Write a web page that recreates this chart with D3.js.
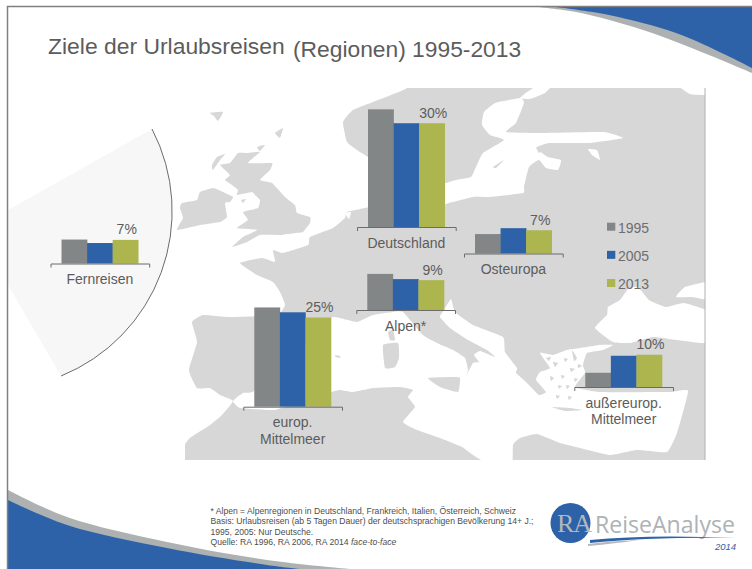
<!DOCTYPE html>
<html><head><meta charset="utf-8">
<style>html,body{margin:0;padding:0;background:#fff;overflow:hidden}svg{display:block}text{font-family:"Liberation Sans",Arial,sans-serif}</style>
<script src="https://cdn.jsdelivr.net/npm/d3@7/dist/d3.min.js"></script>
</head><body><svg id="c" width="752" height="569"></svg>
<script>
// ---- chart data ----
const years = ["1995","2005","2013"];
const categories = ["Fernreisen","Deutschland","Osteuropa","Alpen*","europ. Mittelmeer","außereurop. Mittelmeer"];
const values1995 = [6.9,33.9,5.6,10.4,28.6,4.1];
const values2005 = [5.9,29.9,7.3,8.9,27.2,9.0];
const values2013 = [6.8,29.9,6.7,8.6,25.7,9.3];
const labels2013 = ["7%","30%","7%","9%","25%","10%"];
const titleMain = "Ziele der Urlaubsreisen";
const titleSub = "(Regionen) 1995-2013";
const footnotes = ["* Alpen = Alpenregionen in Deutschland, Frankreich, Italien, Österreich, Schweiz",
 "Basis: Urlaubsreisen (ab 5 Tagen Dauer) der deutschsprachigen Bevölkerung 14+ J.;",
 "1995, 2005: Nur Deutsche."];

// ---- layout ----
const panelLeft = [50.5,357,464,356.3,243.3,574.3];
const panelBase = [263.5,227,253.5,310,406.7,387];
const panelWidth = 98.7;
const colors = d3.scaleOrdinal(years,["#828687","#2e62a8","#adb54f"]);
const INK = "#5c5c5c";

// ---- decorative map outlines (background artwork, px) ----
const seaAtlantic = [[150,70],[407,70],[407,88],[373,102],[353,110],[343,122],[347,142],[357,150],[368,157],[380,165],[380,205],[370,207],[347,212],[345,218],[333,228],[310,237],[308,245],[283,253],[273,250],[275,262],[262,258],[240,263],[257,275],[273,282],[280,292],[285,305],[277,315],[230,317],[203,315],[192,322],[197,342],[189,370],[197,388],[210,388],[220,395],[233,401],[222,415],[210,425],[190,438],[183,448],[180,475],[150,475]];
const seaMed = [[233,401],[243,393],[254,391],[300,350],[331,318],[340,318],[357,322],[373,315],[393,312],[403,312],[423,335],[437,343],[453,350],[465,358],[468,370],[465,378],[473,363],[479,362],[474,355],[480,351],[495,357],[487,350],[468,340],[450,328],[440,317],[444,310],[451,299],[455,312],[473,325],[503,337],[505,352],[517,368],[516,373],[526,382],[539,395],[546,392],[536,380],[540,372],[550,368],[540,353],[553,355],[567,350],[587,347],[600,345],[613,345],[603,350],[587,353],[583,365],[585,373],[575,387],[600,392],[670,392],[688,391],[677,433],[667,452],[637,450],[610,455],[580,448],[560,443],[537,434],[520,438],[513,445],[512,468],[495,468],[473,455],[462,447],[440,438],[417,430],[403,422],[415,407],[408,397],[413,390],[400,387],[373,388],[353,392],[340,390],[331,392],[300,400],[275,410],[240,408]];
const seaBlack = [[595,328],[607,315],[608,307],[620,300],[628,289],[638,287],[649,300],[666,307],[684,303],[712,313],[712,343],[677,340],[653,337],[630,343],[613,342]];
const seaAzov = [[676,297],[685,287],[712,281],[712,300],[692,297]];
const seaBaltic = [[440,183],[446,183],[456,180],[471,177],[476,167],[483,153],[504,140],[490,135],[482,125],[484,112],[495,103],[509,100],[521,98],[524,103],[516,123],[506,132],[536,133],[603,132],[623,138],[589,143],[549,143],[536,148],[548,157],[561,160],[558,170],[546,168],[539,160],[529,167],[524,187],[523,193],[489,197],[473,197],[449,203],[440,205]];
const seaLadoga = [[588,149],[597,150],[600,160],[592,155]];
const seaNorth1 = [[520,98],[527,92],[540,84],[553,84],[545,93],[530,99]];
const seaNorth2 = [[677,84],[712,84],[712,95],[690,94]];
const seaIjssel = [[345,213],[351,212],[349,219]];
const landIreland = [[200,192],[213,188],[223,192],[233,197],[230,202],[225,203],[227,217],[220,222],[200,225],[177,230],[183,218],[180,208],[182,203],[197,200]];
const landBritain = [[238,153],[248,153],[260,152],[248,163],[272,163],[270,170],[260,180],[272,183],[285,197],[295,205],[297,213],[310,217],[310,223],[303,232],[295,233],[280,235],[260,235],[247,242],[232,247],[243,237],[257,230],[237,228],[248,220],[243,212],[258,208],[260,200],[255,195],[252,192],[237,195],[238,190],[232,185],[225,180],[230,175],[220,165],[230,163]];
const landHebrides = [[212,165],[217,157],[225,154],[220,160],[213,170]];
const landOrkney = [[257,147],[265,145],[260,151]];
const landShetland = [[275,133],[283,128],[280,138]];
const landFaroe = [[210,113],[223,112],[218,121],[214,116]];
const landMan = [[241,200],[246,199],[243,203]];
const landCorsica = [[388,332],[393,330],[395,340],[390,340]];
const landSardinia = [[383,345],[398,343],[399,358],[395,367],[385,368]];
const landSicily = [[428,378],[453,377],[460,378],[458,392],[440,387]];
const landMajorca = [[335,355],[340,356],[340,358],[336,357]];
const landGotland = [[493,167],[504,160],[496,168]];
const landSaaremaa = [[537,149],[543,150],[539,153]];
const landCrete = [[552,407],[570,408],[582,410],[565,411]];
const landAegean = [[[553,362],[558,363],[555,367]],[[561,375],[565,376],[562,379]],[[570,368],[575,369],[571,372]],[[558,385],[562,386],[559,389]],[[572,350],[577,358],[574,361]],[[546,358],[551,357],[549,361]],[[564,358],[568,359],[565,362]],[[578,364],[582,366],[578,368]],[[566,385],[570,386],[567,389]],[[574,378],[578,379],[575,382]],[[550,376],[554,378],[551,381]],[[556,395],[560,396],[557,399]],[[568,396],[572,397],[569,400]]];

const svg = d3.select("#c");
const poly = d3.line().curve(d3.curveCardinalClosed.tension(0.6));

// map
const mapG = svg.append("g");
mapG.append("rect").attr("x",185).attr("y",88).attr("width",520).attr("height",372).attr("fill","#d7d7d7");
[seaAtlantic,seaMed,seaBlack,seaAzov,seaBaltic,seaLadoga,seaNorth1,seaNorth2,seaIjssel].forEach(p=>mapG.append("path").attr("d",poly(p)).attr("fill","#fff"));
[landIreland,landBritain,landHebrides,landOrkney,landShetland,landFaroe,landMan,landCorsica,landSardinia,landSicily,landMajorca,landGotland,landSaaremaa,landCrete,...landAegean].forEach(p=>mapG.append("path").attr("d",poly(p)).attr("fill","#d7d7d7"));
mapG.append("rect").attr("x",705.5).attr("y",80).attr("width",12).attr("height",385).attr("fill","#fff");
mapG.append("line").attr("x1",705).attr("x2",705).attr("y1",88).attr("y2",460).attr("stroke","#b0b0b0");

// far-travel wedge
const wedge = [[152,129],[8,210],[8,285],[61,376]];
svg.append("path").attr("d",
  "M"+wedge.map(p=>p.join(",")).join("L")+"A177.8,177.8 0 0 0 152,129Z").attr("fill","#f7f7f7");
svg.append("path").attr("d","M152,129A177.8,177.8 0 0 1 61,376").attr("fill","none").attr("stroke","#6b6b6b").attr("stroke-width",1);

// swooshes
const topArea = d3.area().x(d=>d[0]).y0(7).y1(d=>d[1]).curve(d3.curveCatmullRom);
svg.append("path").attr("d",topArea([[536,7],[576,12],[643,30],[709,55],[752,73]])).attr("fill","#adb1b1");
svg.append("path").attr("d",topArea([[556,7],[609,15],[676,33],[726,55],[752,68]])).attr("fill","#2e62a8");
const botArea = d3.area().x(d=>d[0]).y0(569).y1(d=>d[1]).curve(d3.curveCatmullRom);
svg.append("path").attr("d",botArea([[8,490],[67,517],[167,542],[267,560],[350,569]])).attr("fill","#adb1b1");
svg.append("path").attr("d",botArea([[8,500],[67,525],[167,548],[267,565],[300,569]])).attr("fill","#2e62a8");

// slide frame
svg.append("path").attr("d","M7.5,569V6.5H752").attr("fill","none").attr("stroke","#808080").attr("stroke-width",1.5);

// title
svg.append("text").attr("x",48).attr("y",54).attr("font-size",22.9).attr("fill",INK).text(titleMain);
svg.append("text").attr("x",293).attr("y",56.5).attr("font-size",22.8).attr("fill",INK).text(titleSub);

// bar panels
const h = d3.scaleLinear().domain([0,34]).range([0,118]);
categories.forEach((cat,i)=>{
  const x = d3.scaleBand().domain(years).range([panelLeft[i],panelLeft[i]+panelWidth]).paddingInner(0).paddingOuter(0.43);
  const g = svg.append("g");
  const vals = [values1995[i],values2005[i],values2013[i]];
  g.selectAll("rect").data(years).join("rect")
    .attr("x",d=>x(d)).attr("width",x.bandwidth()+0.3)
    .attr("y",(d,j)=>panelBase[i]-h(vals[j])).attr("height",(d,j)=>h(vals[j]))
    .attr("fill",d=>colors(d));
  const ax = g.append("g").attr("transform",`translate(0,${panelBase[i]})`)
    .call(d3.axisBottom(x).tickValues([]).tickSizeOuter(4));
  ax.select(".domain").attr("stroke","#6b6b6b").attr("stroke-width",1);
  g.append("text").attr("x",x("2013")+x.bandwidth()/2+1.3).attr("y",panelBase[i]-h(vals[2])-5.5)
    .attr("text-anchor","middle").attr("font-size",14).attr("fill",INK).text(labels2013[i]);
  const cx = panelLeft[i]+panelWidth/2;
  cat.split(" ").forEach((w,k)=>{
    g.append("text").attr("x",cx).attr("y",panelBase[i]+20.5+k*16.5)
      .attr("text-anchor","middle").attr("font-size",14).attr("fill",INK).text(w);
  });
});

// legend
const legY = d3.scalePoint().domain(years).range([222.7,279]);
years.forEach(y=>{
  svg.append("rect").attr("x",607).attr("y",legY(y)).attr("width",8.3).attr("height",8).attr("fill",colors(y));
  svg.append("text").attr("x",618).attr("y",legY(y)+9.8).attr("font-size",14).attr("fill","#6e6e6e").text(y);
});

// footnotes
const fy = [514,524,535];
footnotes.forEach((t,i)=>svg.append("text").attr("x",210.5).attr("y",fy[i]).attr("font-size",8.6).attr("fill","#4d4d4d").text(t));
const src = svg.append("text").attr("x",210.5).attr("y",545).attr("font-size",8.6).attr("fill","#4d4d4d");
src.append("tspan").text("Quelle: RA 1996, RA 2006, RA 2014 ");
src.append("tspan").attr("font-style","italic").text("face-to-face");

// logo
svg.append("circle").attr("cx",570.5).attr("cy",523).attr("r",20).attr("fill","#2e62a8");
svg.append("text").attr("x",574).attr("y",532).attr("text-anchor","middle").attr("font-size",26).attr("letter-spacing",-1)
  .attr("style","font-family:'Liberation Serif',serif").attr("fill","#b4b8ba").text("RA");
svg.append("text").attr("x",595).attr("y",533).attr("font-size",24)
  .attr("style","font-family:'Open Sans',sans-serif").attr("fill","#aeb2b4").attr("textLength",140).attr("lengthAdjust","spacingAndGlyphs").text("ReiseAnalyse");
svg.append("path").attr("d","M588,544Q610,541 640,540Q610,544 588,546Z").attr("fill","#b5b8ba");
svg.append("path").attr("d","M590,540Q650,534 736,538Q650,537 590,543Z").attr("fill","#2e62a8");
svg.append("text").attr("x",715).attr("y",549.5).attr("font-size",9.5).attr("font-style","italic").attr("fill","#2e62a8").text("2014");
</script></body></html>
